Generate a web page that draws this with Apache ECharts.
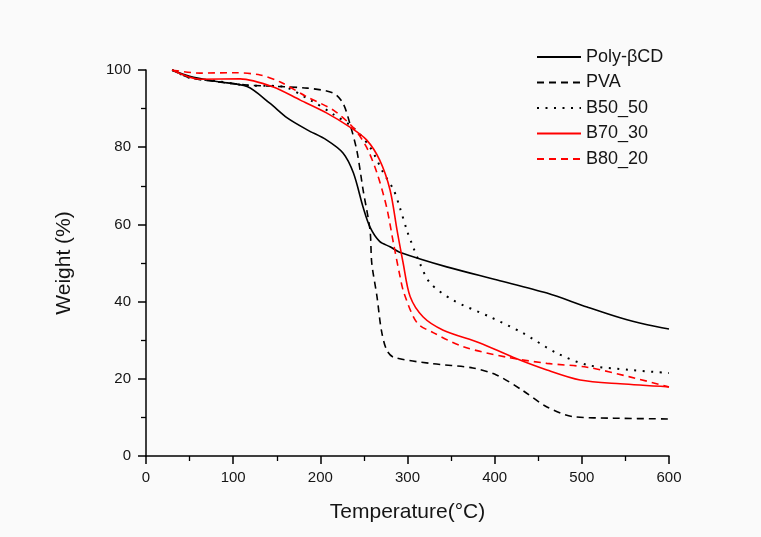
<!DOCTYPE html>
<html>
<head>
<meta charset="utf-8">
<script src="https://cdn.jsdelivr.net/npm/echarts@6/dist/echarts.min.js"></script>
<style>html,body{margin:0;padding:0;background:#fafafa;}#c{width:761px;height:537px;}</style>
</head>
<body>
<div id="c"></div>
<script>
const xTicks = [0, 100, 200, 300, 400, 500, 600];
const yTicks = [0, 20, 40, 60, 80, 100];
const seriesNames = ['Poly-βCD', 'PVA', 'B50_50', 'B70_30', 'B80_20'];

const polyBCD = [[30,100],[50,98.4],[81,97],[116,95.7],[142,91.4],[162,87.6],[185,84.5],[207,81.9],[226,78.5],[238,73.3],[249,64.5],[257,59.3],[268,55.6],[280,54.2],[291,52.8],[345,49],[403,45.6],[460,42.2],[506,38.6],[544,35.8],[575,34],[600,32.9]];
const pva = [[30,100],[50,98],[80,97],[116,96.1],[185,95.3],[215,94],[226,91.4],[234,86],[242,79],[249,69],[257,58.5],[259,50],[265,41.3],[270,32.6],[276,27.5],[284,25.6],[326,24],[375,22.8],[402,21],[432,17],[460,12.7],[490,10.2],[536,9.8],[600,9.6]];
const b5050 = [[30,100],[50,98],[80,97.2],[116,96],[154,95.8],[190,92],[215,88.5],[238,85],[257,80],[272,73.5],[284,69],[291,64.5],[300,58],[305,55],[314,50],[326,44.8],[352,40.4],[395,36],[432,31.9],[471,26.7],[506,23.6],[555,22.3],[600,21.5]];
const b7030 = [[30,100],[62,97.6],[108,97.7],[146,95.6],[177,92.2],[207,88.9],[234,85.2],[253,81.9],[268,76.7],[280,68.9],[288,58.5],[295,50],[303,41.3],[318,36],[341,32.6],[383,29.3],[421,25.6],[460,22.3],[498,19.7],[544,18.7],[600,17.9]];
const b8020 = [[30,100],[62,99.2],[100,99.3],[131,98.7],[154,96.9],[185,93],[215,89.6],[238,85],[253,80],[265,73.3],[276,64.5],[284,55],[291,47],[296,42.2],[311,34.5],[330,31.9],[364,28.3],[414,25.6],[460,24],[506,23],[555,20.5],[600,17.9]];

const dataList = [polyBCD, pva, b5050, b7030, b8020];
const colors = ['#000000', '#000000', '#000000', '#ff0000', '#ff0000'];
const types = ['solid', 'dashed', 'dotted', 'solid', 'dashed'];

const chart = echarts.init(document.getElementById('c'));
const font = 'Liberation Sans, Arial, sans-serif';
chart.setOption({
  backgroundColor: '#fafafa',
  animation: false,
  grid: {left: 146, right: 92, top: 70, bottom: 81},
  legend: {
    orient: 'vertical', left: 531, top: 43,
    itemWidth: 44, itemHeight: 14, itemGap: 7.5,
    itemStyle: {opacity: 0},
    textStyle: {fontFamily: font, fontSize: 18, lineHeight: 18, color: '#151515'},
    data: seriesNames
  },
  xAxis: {
    type: 'value', min: 0, max: 600, interval: 100,
    name: 'Temperature(°C)', nameLocation: 'middle', nameGap: 46,
    nameTextStyle: {fontFamily: font, fontSize: 21, color: '#151515'},
    axisLine: {lineStyle: {color: '#000', width: 1.5}},
    axisTick: {show: true, inside: false, length: 8, lineStyle: {color: '#000', width: 1.5}},
    minorTick: {show: true, splitNumber: 2, length: 5, lineStyle: {color: '#000', width: 1.3}},
    axisLabel: {fontFamily: font, fontSize: 15, color: '#151515', margin: 14, formatter: v => xTicks.includes(v) ? String(v) : ''},
    splitLine: {show: false}
  },
  yAxis: {
    type: 'value', min: 0, max: 100, interval: 20,
    name: 'Weight (%)', nameLocation: 'middle', nameGap: 71,
    nameTextStyle: {fontFamily: font, fontSize: 21, color: '#151515'},
    axisLine: {show: true, lineStyle: {color: '#000', width: 1.5}},
    axisTick: {show: true, inside: false, length: 8, lineStyle: {color: '#000', width: 1.5}},
    minorTick: {show: true, splitNumber: 2, length: 5, lineStyle: {color: '#000', width: 1.3}},
    axisLabel: {fontFamily: font, fontSize: 15, color: '#151515', margin: 15, formatter: v => yTicks.includes(v) ? String(v) : ''},
    splitLine: {show: false}
  },
  series: seriesNames.map((n, i) => ({
    name: n, type: 'line', data: dataList[i], smooth: 0.3, showSymbol: false, symbol: 'none',
    lineStyle: {color: colors[i], width: types[i] === 'dotted' ? 2 : 1.6, type: types[i] === 'dotted' ? [2, 6.5] : (types[i] === 'dashed' ? [7, 5] : 'solid')},
    itemStyle: {color: colors[i]}
  }))
});
</script>
</body>
</html>
